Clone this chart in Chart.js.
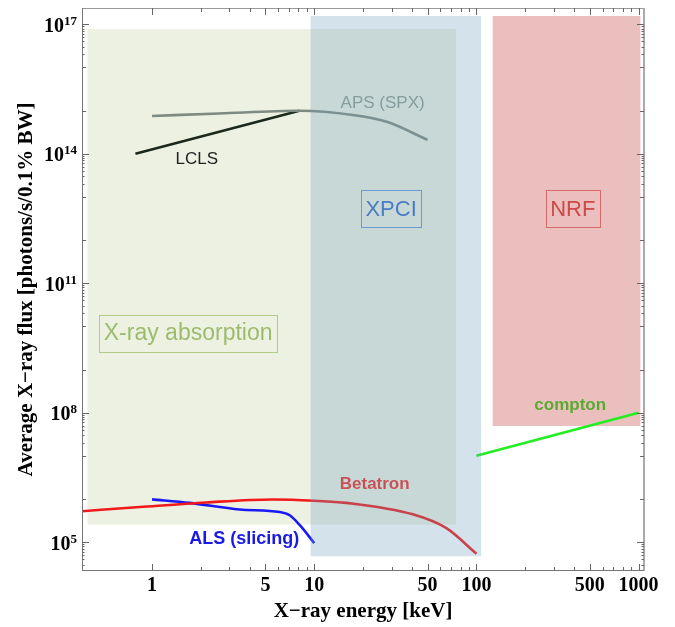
<!DOCTYPE html>
<html lang="en">
<head>
  <meta charset="UTF-8">
  <title>Average X-ray flux vs energy</title>
  <script src="https://cdn.jsdelivr.net/npm/chart.js"></script>
  <style>
    html, body { margin: 0; padding: 0; background: #fff; }
    #wrap { width: 675px; height: 627px; }
  </style>
</head>
<body>
<div id="wrap"><canvas id="fluxChart"></canvas></div>

<script>
  // Source curves: energy [keV] and flux [photons/s/0.1% BW]
  const apsEnergy = [1, 2.6, 8.1, 17.3, 28, 50];
  const apsFlux = [7.5e14, 8.6e14, 9.9e14, 7.9e14, 5.5e14, 2.1e14];

  const lclsEnergy = [0.79, 8.1];
  const lclsFlux = [1e14, 9.9e14];

  const betatronEnergy = [0.37, 0.84, 2.16, 5.55, 10, 15.8, 40.5, 65.3, 100];
  const betatronFlux = [5.2e5, 6.5e5, 8.3e5, 9.7e5, 9.1e5, 8.1e5, 4.4e5, 2.1e5, 5.4e4];

  const alsEnergy = [1, 1.71, 3.47, 6.13, 7.06, 8.13, 10];
  const alsFlux = [9.8e5, 8.1e5, 5.7e5, 5.0e5, 4.2e5, 2.5e5, 9.5e4];

  const comptonEnergy = [100, 1000];
  const comptonFlux = [1e7, 1e8];

  // Application regions (energy range x flux range)
  const regionNames = ['X-ray absorption', 'XPCI', 'NRF'];
  const regionEnergyMin = [0.40, 9.5, 126];
  const regionEnergyMax = [75, 107, 1026];
  const regionFluxMin = [2.55e5, 4.7e4, 4.9e7];
  const regionFluxMax = [7.8e16, 1.56e17, 1.56e17];

  // Axis ticks
  const xTickLabels = [1, 5, 10, 50, 100, 500, 1000];
  const yTickExponents = [5, 8, 11, 14, 17];

  // Text labels inside the plot (anchored at energy / flux)
  const curveLabels = [
    { text: 'APS (SPX)', e: 26.4, f: 1.5e15, color: '#8f9c91', font: '17px "Liberation Sans"' },
    { text: 'LCLS', e: 1.89, f: 7.5e13, color: '#222', font: '17px "Liberation Sans"' },
    { text: 'compton', e: 379, f: 1.5e8, color: '#5aaa32', font: 'bold 17px "Liberation Sans"' },
    { text: 'Betatron', e: 23.6, f: 2.2e6, color: '#f0302a', font: 'bold 17px "Liberation Sans"' },
    { text: 'ALS (slicing)', e: 3.7, f: 1.15e5, color: '#1a1ae6', font: 'bold 18px "Liberation Sans"' }
  ];
  const regionLabelPos = [
    { e: 1.67, f: 7.0e9, color: '#9dbb6e', box: '#b0cc86', size: 23 },
    { e: 29.8, f: 5.3e12, color: '#4a7cc4', box: '#6a9bd6', size: 22 },
    { e: 393, f: 5.4e12, color: '#cc4a4a', box: '#d66a6a', size: 22 }
  ];
  const regionFill = ['#edf1e2', 'rgba(112,160,190,0.3)', '#ebbfbd'];

  const toPoints = (xs, ys) => xs.map((v, i) => ({ x: v, y: ys[i] }));

  function fillRegion(chart, i) {
    const { ctx, scales: { x, y } } = chart;
    const x0 = x.getPixelForValue(regionEnergyMin[i]);
    const x1 = x.getPixelForValue(regionEnergyMax[i]);
    const y0 = y.getPixelForValue(regionFluxMax[i]);
    const y1 = y.getPixelForValue(regionFluxMin[i]);
    ctx.save();
    ctx.fillStyle = regionFill[i];
    ctx.fillRect(x0, y0, x1 - x0, y1 - y0);
    ctx.restore();
  }

  function regionLabel(chart, i) {
    const { ctx, scales: { x, y } } = chart;
    const p = regionLabelPos[i];
    const cx = x.getPixelForValue(p.e);
    const cy = y.getPixelForValue(p.f);
    ctx.save();
    ctx.font = p.size + 'px "Liberation Sans"';
    const w = ctx.measureText(regionNames[i]).width + 9;
    const h = 37;
    ctx.strokeStyle = p.box;
    ctx.lineWidth = 1;
    ctx.strokeRect(Math.round(cx - w / 2) + 0.5, Math.round(cy - h / 2) + 0.5, Math.round(w), h);
    ctx.fillStyle = p.color;
    ctx.textAlign = 'center';
    ctx.textBaseline = 'middle';
    ctx.fillText(regionNames[i], cx, cy + 1);
    ctx.restore();
  }

  const decorPlugin = {
    id: 'decor',
    beforeDatasetsDraw(chart) {
      const { ctx, scales: { x, y } } = chart;
      fillRegion(chart, 0);
      fillRegion(chart, 2);
      regionLabel(chart, 0);
      regionLabel(chart, 2);
      ctx.save();
      ctx.textAlign = 'center';
      ctx.textBaseline = 'middle';
      curveLabels.forEach(l => {
        ctx.font = l.font;
        ctx.fillStyle = l.color;
        ctx.fillText(l.text, x.getPixelForValue(l.e), y.getPixelForValue(l.f));
      });
      ctx.restore();
    },
    afterDatasetsDraw(chart) {
      // XPCI band sits over the curves
      fillRegion(chart, 1);
      regionLabel(chart, 1);
    },
    afterDraw(chart) {
      const { ctx, chartArea: a, scales: { x, y } } = chart;
      ctx.save();
      // frame
      ctx.lineWidth = 1;
      ctx.strokeStyle = '#999';
      ctx.beginPath();
      ctx.moveTo(a.left, a.top + 0.5); ctx.lineTo(a.right, a.top + 0.5);
      ctx.stroke();
      ctx.strokeStyle = '#aaa';
      ctx.lineWidth = 2;
      ctx.beginPath();
      ctx.moveTo(a.right, a.top); ctx.lineTo(a.right, a.bottom);
      ctx.stroke();
      ctx.strokeStyle = '#777';
      ctx.lineWidth = 1;
      ctx.beginPath();
      ctx.moveTo(a.left + 0.5, a.top); ctx.lineTo(a.left + 0.5, a.bottom);
      ctx.moveTo(a.left, a.bottom - 0.5); ctx.lineTo(a.right, a.bottom - 0.5);
      ctx.stroke();

      // inward ticks
      ctx.lineWidth = 1;
      const xTick = (v, len) => {
        const px = Math.round(x.getPixelForValue(v)) + 0.5;
        ctx.beginPath();
        ctx.moveTo(px, a.bottom); ctx.lineTo(px, a.bottom - len);
        ctx.moveTo(px, a.top); ctx.lineTo(px, a.top + len);
        ctx.stroke();
      };
      const yTick = (v, len) => {
        const py = Math.round(y.getPixelForValue(v)) + 0.5;
        ctx.beginPath();
        ctx.moveTo(a.left, py); ctx.lineTo(a.left + len, py);
        ctx.moveTo(a.right, py); ctx.lineTo(a.right - len, py);
        ctx.stroke();
      };
      ctx.strokeStyle = '#666';
      for (let k = 0; k <= 2; k++) {
        for (let m = 2; m <= 9; m++) {
          if (m !== 5) xTick(m * Math.pow(10, k), 4);
        }
      }
      xTickLabels.forEach(v => xTick(v, 7));
      for (let k = 5; k <= 17; k++) {
        yTick(Math.pow(10, k), yTickExponents.includes(k) ? 7 : 4);
      }
      yTickExponents.forEach(k => {
        for (let m = 2; m <= 9; m++) {
          const v = m * Math.pow(10, k - 1);
          if (v >= y.min) yTick(v, 2.5);
        }
      });

      // y tick labels as 10 with a raised exponent
      ctx.fillStyle = '#000';
      ctx.textBaseline = 'alphabetic';
      ctx.textAlign = 'left';
      yTickExponents.forEach(k => {
        const py = y.getPixelForValue(Math.pow(10, k));
        const exp = String(k);
        ctx.font = 'bold 13px "Liberation Serif"';
        const we = ctx.measureText(exp).width;
        ctx.font = 'bold 20px "Liberation Serif"';
        const wb = ctx.measureText('10').width;
        const right = a.left - 5;
        ctx.fillText('10', right - we - wb, py + 7.5);
        ctx.font = 'bold 13px "Liberation Serif"';
        ctx.fillText(exp, right - we, py + 0.5);
      });
      ctx.restore();
    }
  };

  const lineDefaults = { showLine: true, pointRadius: 0, borderWidth: 2.6, fill: false, cubicInterpolationMode: 'monotone' };

  new Chart(document.getElementById('fluxChart'), {
    type: 'scatter',
    data: {
      datasets: [
        Object.assign({ label: 'APS (SPX)', data: toPoints(apsEnergy, apsFlux), borderColor: '#7f8a80' }, lineDefaults),
        Object.assign({ label: 'LCLS', data: toPoints(lclsEnergy, lclsFlux), borderColor: '#1c281c' }, lineDefaults),
        Object.assign({ label: 'Betatron', data: toPoints(betatronEnergy, betatronFlux), borderColor: '#f01a1a' }, lineDefaults),
        Object.assign({ label: 'ALS (slicing)', data: toPoints(alsEnergy, alsFlux), borderColor: '#1a1af5' }, lineDefaults),
        Object.assign({ label: 'compton', data: toPoints(comptonEnergy, comptonFlux), borderColor: '#22ee22' }, lineDefaults)
      ]
    },
    options: {
      responsive: true,
      maintainAspectRatio: false,
      animation: false,
      layout: { padding: { top: 8, right: 31, bottom: 0, left: 0 } },
      plugins: { legend: { display: false }, tooltip: { enabled: false } },
      scales: {
        x: {
          type: 'logarithmic',
          min: 0.37,
          max: 1080,
          grid: { display: false, drawTicks: false },
          border: { display: false },
          afterFit: s => { s.height = 56; s.paddingLeft = 0; s.paddingRight = 0; },
          afterBuildTicks: s => { s.ticks = xTickLabels.map(v => ({ value: v })); },
          ticks: {
            autoSkip: false, maxRotation: 0, padding: 3, color: '#000',
            font: { family: '"Liberation Serif"', weight: 'bold', size: 20 },
            callback: v => String(v)
          },
          title: {
            display: true, text: 'X−ray energy [keV]', color: '#000',
            font: { family: '"Liberation Serif"', weight: 'bold', size: 21 },
            padding: { top: 0, bottom: 3 }
          }
        },
        y: {
          type: 'logarithmic',
          min: 2.14e4,
          max: 2.39e17,
          grid: { display: false, drawTicks: false },
          border: { display: false },
          afterFit: s => { s.width = 82; s.paddingTop = 0; s.paddingBottom = 0; },
          afterBuildTicks: s => { s.ticks = yTickExponents.map(k => ({ value: Math.pow(10, k) })); },
          ticks: {
            autoSkip: false, padding: 5, color: '#000',
            font: { family: '"Liberation Serif"', weight: 'bold', size: 20 },
            callback: () => ''
          },
          title: {
            display: true, text: 'Average X−ray flux [photons/s/0.1% BW]', color: '#000',
            font: { family: '"Liberation Serif"', weight: 'bold', size: 21 },
            padding: { top: 14, bottom: 0 }
          }
        }
      }
    },
    plugins: [decorPlugin]
  });
</script>
</body>
</html>
